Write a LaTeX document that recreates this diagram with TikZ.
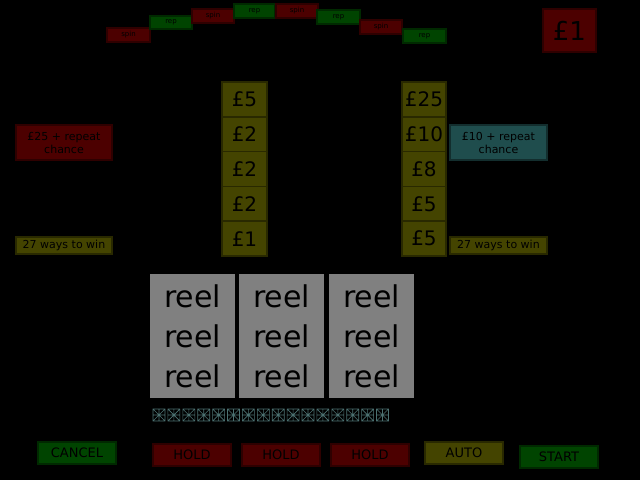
\documentclass[tikz,border=0pt]{standalone}
\usepackage{fontspec}
\setmainfont{DejaVu Sans}
\begin{document}
\begin{tikzpicture}[x=1pt,y=-1pt,
 bx/.style={draw=#1!60!black,line width=1.5pt,fill=#1,inner sep=0pt,text=black},
 red/.style={bx=rd},grn/.style={bx=gn},olv/.style={bx=ol},cyn/.style={bx=cy}]
\definecolor{rd}{HTML}{4C0000}\definecolor{gn}{HTML}{004400}
\definecolor{ol}{HTML}{444400}\definecolor{cy}{HTML}{1F4D4D}
\definecolor{rl}{HTML}{808080}
\fill[black] (0,0) rectangle (640,480);
\useasboundingbox (0,0) rectangle (640,480);
\newcommand\bx[7]{\node[#1,minimum width=#4-#2,minimum height=#5-#3,font=\fontsize{#6}{\numexpr#6*6/5\relax}\selectfont,align=center] (n#2x#3) at ({(#2+#4)/2},{(#3+#5)/2}) {#7};}
% top arc
\bx{red}{107}{28}{150}{42}{7}{spin}
\bx{grn}{150}{16}{192}{29}{7}{rep}
\bx{red}{192}{9}{234}{23}{7}{spin}
\bx{grn}{234}{4}{275}{18}{7}{rep}
\bx{red}{276}{4}{318}{18}{7}{spin}
\bx{grn}{317}{10}{360}{24}{7}{rep}
\bx{red}{360}{20}{402}{34}{7}{spin}
\bx{grn}{403}{29}{446}{43}{7}{rep}
\bx{red}{543}{9}{596}{52}{26}{£1}
% columns
\foreach \t [count=\i from 0] in {£5,£2,£2,£2,£1}{
 \node[olv,minimum width=45,minimum height=35,font=\fontsize{20}{20}\selectfont] (l\i) at (244.5,{99.5+34.8*\i}) {\t};}
\foreach \t [count=\i from 0] in {£25,£10,£8,£5,£5}{
 \node[olv,minimum width=44,minimum height=35,font=\fontsize{20}{20}\selectfont] (r\i) at (424,{99.5+34.8*\i}) {\t};}
\bx{red}{16}{125}{112}{160}{11}{£25 + repeat\\chance}
\bx{cyn}{450}{125}{547}{160}{11}{£10 + repeat\\chance}
\bx{olv}{16}{237}{112}{254}{11}{27 ways to win}
\bx{olv}{450}{237}{547}{254}{11}{27 ways to win}
% reels
\foreach \x in {150,239,329}{
 \node[fill=rl,minimum width=85,minimum height=124,inner sep=0pt,font=\fontsize{30}{40}\selectfont,align=center] (reel\x) at (\x+42.5,336) {reel\\reel\\reel};}
% segment display
\foreach \i in {0,...,15}{
 \begin{scope}[shift={(152+14.9*\i,408)},draw=cy!80!white,line width=0.6pt]
 \draw (1,1) rectangle (13,13) (1,7)--(13,7) (7,1)--(7,13) (1,1)--(13,13) (13,1)--(1,13);
 \end{scope}}
% buttons
\bx{grn}{38}{442}{116}{464}{13}{CANCEL}
\bx{red}{153}{444}{231}{466}{13}{HOLD}
\bx{red}{242}{444}{320}{466}{13}{HOLD}
\bx{red}{331}{444}{409}{466}{13}{HOLD}
\bx{olv}{425}{442}{503}{464}{13}{AUTO}
\bx{grn}{520}{446}{598}{468}{13}{START}
\end{tikzpicture}
\end{document}
